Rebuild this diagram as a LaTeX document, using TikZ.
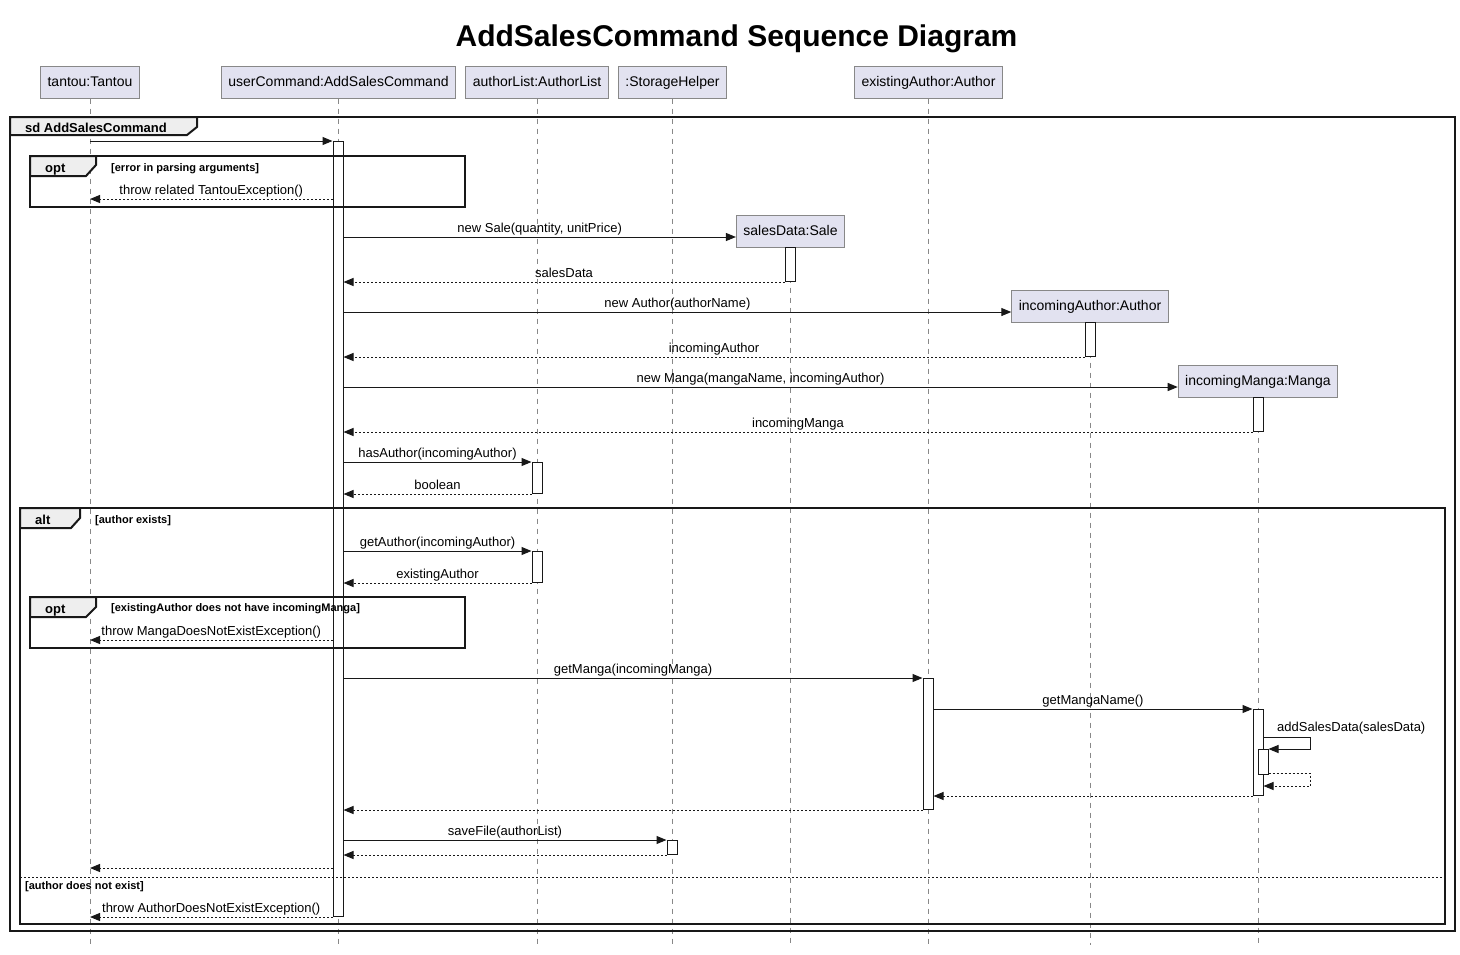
\documentclass[tikz,border=0pt]{standalone}
\usepackage{fontspec}
\setmainfont{Liberation Sans}
\usetikzlibrary{arrows.meta}
\definecolor{partfill}{HTML}{E2E2F0}
\definecolor{partdraw}{HTML}{888888}
\definecolor{tabfill}{HTML}{EEEEEE}
\definecolor{ink}{HTML}{181818}
\definecolor{lifegray}{HTML}{888888}
\begin{document}
\begin{tikzpicture}[x=1pt,y=-1pt,
  part/.style={draw=partdraw, fill=partfill, line width=1, font=\fontsize{14}{16}\selectfont, minimum height=32, inner xsep=7, inner ysep=0, text height=10.5, text depth=2.5},
  act/.style={draw=ink, fill=white, line width=1, minimum width=10, inner sep=0},
  life/.style={draw=lifegray, dash pattern=on 5 off 5, line width=0.9},
  msg/.style={draw=ink, line width=1, -{Triangle[length=10,width=8]}},
  ret/.style={msg, dash pattern=on 2 off 2},
  lbl/.style={font=\fontsize{13}{15}\selectfont, anchor=base, inner sep=0, yshift=5},
  freelbl/.style={font=\fontsize{13}{15}\selectfont, anchor=base west, inner sep=0},
  framebox/.style={draw=ink, line width=2},
  tabbox/.style={draw=ink, fill=tabfill, line width=2, line join=miter},
  tablbl/.style={font=\bfseries\fontsize{13}{15}\selectfont, anchor=base west, inner sep=0},
  guard/.style={font=\bfseries\fontsize{11}{13}\selectfont, anchor=base west, inner sep=0},
  divider/.style={draw=ink, line width=1, dash pattern=on 2 off 2},
  titlelbl/.style={font=\bfseries\fontsize{30}{34}\selectfont, anchor=base, inner sep=0}
]
\useasboundingbox (0,0) rectangle (1460,954);
\fill[white] (0,0) rectangle (1460,954);

\node[titlelbl] (title) at (736.5,46) {AddSalesCommand Sequence Diagram};

% participants
\node[part] (pT) at (90,82) {tantou:Tantou};
\node[part] (pU) at (338.5,82) {userCommand:AddSalesCommand};
\node[part] (pL) at (537,82) {authorList:AuthorList};
\node[part] (pS) at (672.5,82) {:StorageHelper};
\node[part] (pE) at (928.5,82) {existingAuthor:Author};
\node[part] (pSD) at (790.5,231) {salesData:Sale};
\node[part] (pIA) at (1090,306) {incomingAuthor:Author};
\node[part] (pIM) at (1258,381) {incomingManga:Manga};

% lifelines
\coordinate (bT) at (90,945);
\coordinate (bU) at (338,945);
\coordinate (bL) at (537,945);
\coordinate (bS) at (672,945);
\coordinate (bE) at (928,945);
\coordinate (bSD) at (790,945);
\coordinate (bIA) at (1090,945);
\coordinate (bIM) at (1258,945);
\draw[life] (pT.south) -- (bT);
\draw[life] (pU.south -| bU) -- (bU);
\draw[life] (pL.south) -- (bL);
\draw[life] (pS.south -| bS) -- (bS);
\draw[life] (pE.south -| bE) -- (bE);
\draw[life] (pSD.south -| bSD) -- (bSD);
\draw[life] (pIA.south) -- (bIA);
\draw[life] (pIM.south) -- (bIM);

% activations
\node[act, minimum height=775, anchor=north] (aU) at (338,141) {};
\node[act, minimum height=34, anchor=north] (aSD) at (790,247) {};
\node[act, minimum height=34, anchor=north] (aIA) at (1090,322) {};
\node[act, minimum height=34, anchor=north] (aIM) at (1258,397) {};
\node[act, minimum height=31, anchor=north] (aL1) at (537,462) {};
\node[act, minimum height=31, anchor=north] (aL2) at (537,551) {};
\node[act, minimum height=131, anchor=north] (aE) at (928,678) {};
\node[act, minimum height=86, anchor=north] (aIM2) at (1258,709) {};
\node[act, minimum height=25, anchor=north] (aN) at (1263,749) {};
\node[act, minimum height=14, anchor=north] (aS) at (672,840) {};

% frames
\draw[framebox] (10,117) rectangle (1455,931);
\draw[tabbox] (10,117) -- (197,117) -- (197,127) -- (187,135) -- (10,135) -- cycle;
\node[tablbl] (sdl) at (25,132) {sd AddSalesCommand};

\draw[framebox] (30,156) rectangle (465,207);
\draw[tabbox] (30,156) -- (96,156) -- (96,165) -- (86,176) -- (30,176) -- cycle;
\node[tablbl] (opt1l) at (45,172) {opt};
\node[guard] (g1) at (111,171) {[error in parsing arguments]};

\draw[framebox] (20,508) rectangle (1445,924);
\draw[tabbox] (20,508) -- (80,508) -- (80,518) -- (71,528) -- (20,528) -- cycle;
\node[tablbl] (altl) at (35,524) {alt};
\node[guard] (g2) at (95,523) {[author exists]};
\draw[divider] (20,877) -- (1445,877);
\node[guard] (g3) at (25,889) {[author does not exist]};

\draw[framebox] (30,597) rectangle (465,648);
\draw[tabbox] (30,597) -- (96,597) -- (96,607) -- (86,617) -- (30,617) -- cycle;
\node[tablbl] (opt2l) at (45,613) {opt};
\node[guard] (g4) at (111,611) {[existingAuthor does not have incomingManga]};

% messages
\draw[msg] (pT |- aU.north) -- (aU.north west);
\draw[ret] (aU.west |- 0,199) -- (pT |- 0,199) node[lbl, midway] {throw related TantouException()};
\draw[msg] (aU.east |- 0,237) -- ([yshift=-6pt]pSD.west) node[lbl, midway] {new Sale(quantity, unitPrice)};
\draw[ret] (aSD.south west) -- (aU.east |- aSD.south) node[lbl, midway] {salesData};
\draw[msg] (aU.east |- 0,312) -- ([yshift=-6pt]pIA.west) node[lbl, midway] {new Author(authorName)};
\draw[ret] (aIA.south west) -- (aU.east |- aIA.south) node[lbl, midway] {incomingAuthor};
\draw[msg] (aU.east |- 0,387) -- ([yshift=-6pt]pIM.west) node[lbl, midway] {new Manga(mangaName, incomingAuthor)};
\draw[ret] (aIM.south west) -- (aU.east |- aIM.south) node[lbl, midway] {incomingManga};
\draw[msg] (aU.east |- aL1.north) -- (aL1.north west) node[lbl, midway] {hasAuthor(incomingAuthor)};
\draw[ret] (aL1.south west) -- (aU.east |- aL1.south) node[lbl, midway] {boolean};
\draw[msg] (aU.east |- aL2.north) -- (aL2.north west) node[lbl, midway] {getAuthor(incomingAuthor)};
\draw[ret] (aL2.south west) -- (aU.east |- aL2.south) node[lbl, midway] {existingAuthor};
\draw[ret] (aU.west |- 0,640) -- (pT |- 0,640) node[lbl, midway] {throw MangaDoesNotExistException()};
\draw[msg] (aU.east |- aE.north) -- (aE.north west) node[lbl, midway] {getManga(incomingManga)};
\draw[msg] (aE.east |- aIM2.north) -- (aIM2.north west) node[lbl, midway] {getMangaName()};
\coordinate (s1) at (1310,737);
\coordinate (s2) at (1310,749);
\draw[msg] (aIM2.east |- s1) -- (s1) -- (s2) -- (aN.north east);
\node[freelbl] (sl) at (1277,731) {addSalesData(salesData)};
\coordinate (r1) at (1310,773);
\coordinate (r2) at (1310,786);
\draw[ret] (aN.east |- r1) -- (r1) -- (r2) -- (aIM2.east |- r2);
\draw[ret] (aIM2.south west) -- (aE.east |- aIM2.south);
\draw[ret] (aE.south west) -- (aU.east |- aE.south);
\draw[msg] (aU.east |- aS.north) -- (aS.north west) node[lbl, midway] {saveFile(authorList)};
\draw[ret] (aS.south west) -- (aU.east |- aS.south);
\draw[ret] (aU.west |- 0,868) -- (pT |- 0,868);
\draw[ret] (aU.south west) -- (pT |- aU.south) node[lbl, midway] {throw AuthorDoesNotExistException()};
\end{tikzpicture}
\end{document}
